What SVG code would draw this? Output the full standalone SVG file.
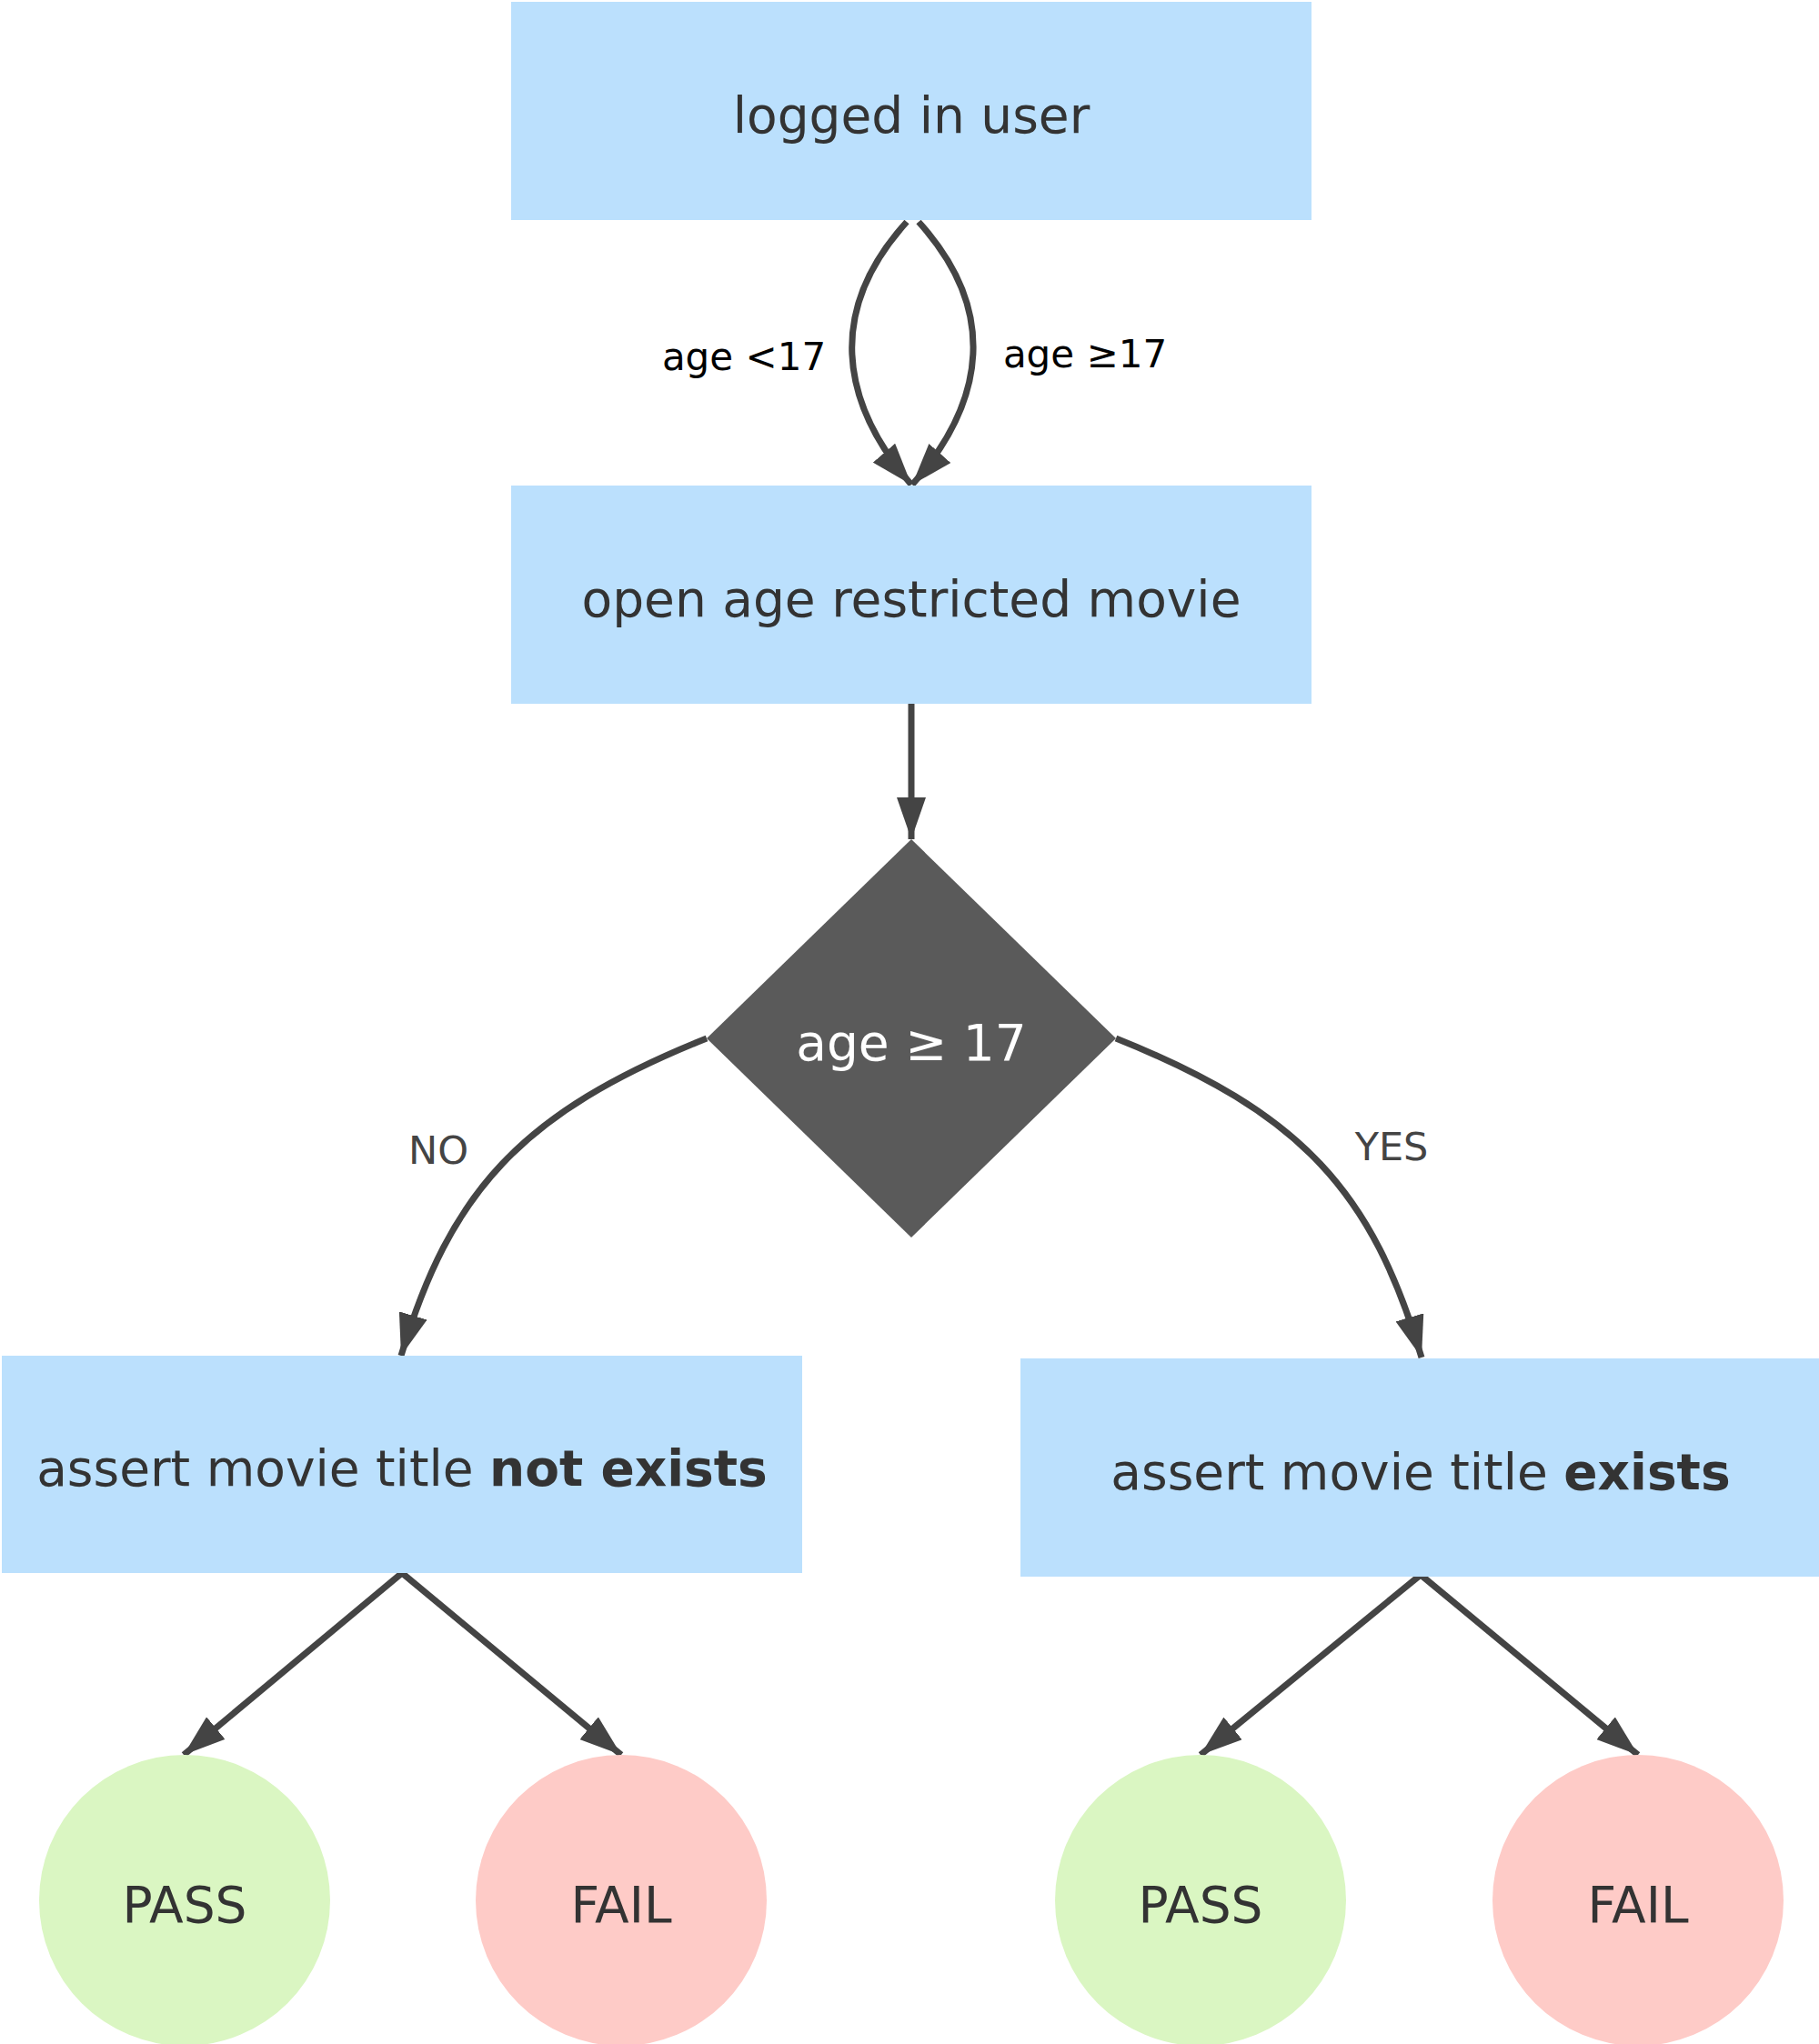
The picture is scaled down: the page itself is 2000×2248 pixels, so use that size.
<svg xmlns="http://www.w3.org/2000/svg" width="2000" height="2248" viewBox="0 0 2000 2248">
<style>
.box{fill:#bbe0fd}
.pass{fill:#daf6c2}
.fail{fill:#fecbc7}
.t{font-family:"DejaVu Sans",sans-serif;font-size:55px;fill:#333333;text-anchor:middle}
.w{fill:#ffffff}
.lbl{font-family:"DejaVu Sans",sans-serif;font-size:42px;fill:#000000;text-anchor:middle}
.lbl2{font-family:"DejaVu Sans",sans-serif;font-size:43px;fill:#444444;text-anchor:middle}
.c{fill:none;stroke:#444444;stroke-width:7;marker-end:url(#ah)}
</style>
<defs>
<marker id="ah" viewBox="0 0 46 32" refX="46" refY="16" markerWidth="46" markerHeight="32" markerUnits="userSpaceOnUse" orient="auto">
<path d="M0,0 L46,16 L0,32 Z" fill="#444444"/>
</marker>
</defs>
<rect width="2000" height="2248" fill="#ffffff"/>
<g id="connectors">
<path class="c" d="M997,244 C910,340 922,440 1002,533"/>
<path class="c" d="M1010,244 C1097,340 1085,440 1003,533"/>
<path class="c" d="M1002,774 L1002,923"/>
<path class="c" d="M777,1142 C572,1224 495,1311 441,1491"/>
<path class="c" d="M1227,1142 C1432,1224 1509,1311 1563,1493"/>
<path class="c" d="M442,1730 L202,1930"/>
<path class="c" d="M442,1730 L683,1930"/>
<path class="c" d="M1562,1732 L1320,1930"/>
<path class="c" d="M1562,1732 L1801,1930"/>
<text class="lbl" x="818" y="407">age &lt;17</text>
<text class="lbl" x="1193" y="404">age ≥17</text>
<text class="lbl2" x="482" y="1280">NO</text>
<text class="lbl2" x="1530" y="1276">YES</text>
</g>
<g id="n_logged">
<rect class="box" x="562" y="2" width="880" height="240"/>
<text class="t" x="1002" y="146">logged in user</text>
</g>
<g id="n_open">
<rect class="box" x="562" y="534" width="880" height="240"/>
<text class="t" x="1002" y="678">open age restricted movie</text>
</g>
<g id="n_decision">
<polygon points="1002,923 1227,1142 1002,1361 777,1142" fill="#5a5a5a"/>
<text class="t w" x="1002" y="1166">age ≥ 17</text>
</g>
<g id="n_notexists">
<rect class="box" x="2" y="1491" width="880" height="239"/>
<text class="t" x="442" y="1634">assert movie title <tspan font-weight="bold">not exists</tspan></text>
</g>
<g id="n_exists">
<rect class="box" x="1122" y="1494" width="880" height="240"/>
<text class="t" x="1562" y="1638">assert movie title <tspan font-weight="bold">exists</tspan></text>
</g>
<g id="n_pass1">
<circle class="pass" cx="203" cy="2090" r="160"/>
<text class="t" x="203" y="2114">PASS</text>
</g>
<g id="n_fail1">
<circle class="fail" cx="683" cy="2090" r="160"/>
<text class="t" x="683" y="2114">FAIL</text>
</g>
<g id="n_pass2">
<circle class="pass" cx="1320" cy="2090" r="160"/>
<text class="t" x="1320" y="2114">PASS</text>
</g>
<g id="n_fail2">
<circle class="fail" cx="1801" cy="2090" r="160"/>
<text class="t" x="1801" y="2114">FAIL</text>
</g>
</svg>
